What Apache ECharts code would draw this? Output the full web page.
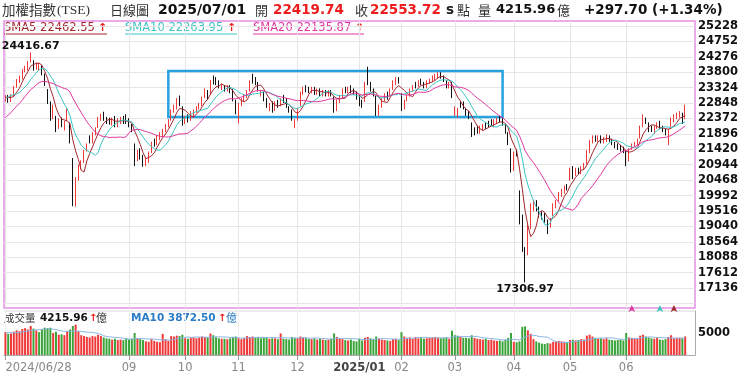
<!DOCTYPE html>
<html><head><meta charset="utf-8">
<script src="https://cdn.jsdelivr.net/npm/echarts@6/dist/echarts.min.js"></script>
<style>html,body{margin:0;padding:0;background:#fff}#c{width:740px;height:378px}</style>
</head><body><div id="c"></div><script>
const dates = [
'2024/06/28',
'2024/07/01','2024/07/02','2024/07/03','2024/07/04','2024/07/05','2024/07/08','2024/07/09','2024/07/10','2024/07/11','2024/07/12','2024/07/15','2024/07/16','2024/07/17','2024/07/18','2024/07/19','2024/07/22','2024/07/23','2024/07/26','2024/07/29','2024/07/30','2024/07/31',
'2024/08/01','2024/08/02','2024/08/05','2024/08/06','2024/08/07','2024/08/08','2024/08/09','2024/08/12','2024/08/13','2024/08/14','2024/08/15','2024/08/16','2024/08/19','2024/08/20','2024/08/21','2024/08/22','2024/08/23','2024/08/26','2024/08/27','2024/08/28','2024/08/29','2024/08/30',
'2024/09/02','2024/09/03','2024/09/04','2024/09/05','2024/09/06','2024/09/09','2024/09/10','2024/09/11','2024/09/12','2024/09/13','2024/09/16','2024/09/18','2024/09/19','2024/09/20','2024/09/23','2024/09/24','2024/09/25','2024/09/26','2024/09/27','2024/09/30',
'2024/10/01','2024/10/04','2024/10/07','2024/10/08','2024/10/09','2024/10/11','2024/10/14','2024/10/15','2024/10/16','2024/10/17','2024/10/18','2024/10/21','2024/10/22','2024/10/23','2024/10/24','2024/10/25','2024/10/28','2024/10/29','2024/10/30',
'2024/11/01','2024/11/04','2024/11/05','2024/11/06','2024/11/07','2024/11/08','2024/11/11','2024/11/12','2024/11/13','2024/11/14','2024/11/15','2024/11/18','2024/11/19','2024/11/20','2024/11/21','2024/11/22','2024/11/25','2024/11/26','2024/11/27','2024/11/28','2024/11/29',
'2024/12/02','2024/12/03','2024/12/04','2024/12/05','2024/12/06','2024/12/09','2024/12/10','2024/12/11','2024/12/12','2024/12/13','2024/12/16','2024/12/17','2024/12/18','2024/12/19','2024/12/20','2024/12/23','2024/12/24','2024/12/25','2024/12/26','2024/12/27','2024/12/30','2024/12/31',
'2025/01/02','2025/01/03','2025/01/06','2025/01/07','2025/01/08','2025/01/09','2025/01/10','2025/01/13','2025/01/14','2025/01/15','2025/01/16','2025/01/17','2025/01/20','2025/01/21','2025/01/22',
'2025/02/03','2025/02/04','2025/02/05','2025/02/06','2025/02/07','2025/02/10','2025/02/11','2025/02/12','2025/02/13','2025/02/14','2025/02/17','2025/02/18','2025/02/19','2025/02/20','2025/02/21','2025/02/24','2025/02/25','2025/02/26','2025/02/27',
'2025/03/03','2025/03/04','2025/03/05','2025/03/06','2025/03/07','2025/03/10','2025/03/11','2025/03/12','2025/03/13','2025/03/14','2025/03/17','2025/03/18','2025/03/19','2025/03/20','2025/03/21','2025/03/24','2025/03/25','2025/03/26','2025/03/27','2025/03/28','2025/03/31',
'2025/04/01','2025/04/02','2025/04/07','2025/04/08','2025/04/09','2025/04/10','2025/04/11','2025/04/14','2025/04/15','2025/04/16','2025/04/17','2025/04/18','2025/04/21','2025/04/22','2025/04/23','2025/04/24','2025/04/25','2025/04/28','2025/04/29','2025/04/30',
'2025/05/02','2025/05/05','2025/05/06','2025/05/07','2025/05/08','2025/05/09','2025/05/12','2025/05/13','2025/05/14','2025/05/15','2025/05/16','2025/05/19','2025/05/20','2025/05/21','2025/05/22','2025/05/23','2025/05/26','2025/05/27','2025/05/28','2025/05/29',
'2025/06/02','2025/06/03','2025/06/04','2025/06/05','2025/06/06','2025/06/09','2025/06/10','2025/06/11','2025/06/12','2025/06/13','2025/06/16','2025/06/17','2025/06/18','2025/06/19','2025/06/20','2025/06/23','2025/06/24','2025/06/25','2025/06/26','2025/06/27','2025/06/30',
'2025/07/01'];

const opens = [22960,23060,22920,23080,23360,23520,23620,23840,23900,24150,
24100,23950,23900,23950,23700,23250,22850,22450,22400,22150,
22300,22050,22300,22200,21100,19800,20550,20850,21050,21400,
21800,21650,21900,22100,22350,22480,22380,22350,22200,22380,
22200,22250,22350,22450,22300,22150,21550,21200,21400,21200,
20950,21050,21350,21700,21600,21800,21850,22000,22150,22350,
22600,22700,23000,22700,22250,22450,22350,22450,22600,22700,
22800,23050,23200,23150,23650,23550,23500,23300,23350,23250,
23350,23250,22900,22400,22800,22950,23050,23250,23650,23600,
23450,23150,23150,22950,22700,22850,22650,22900,22800,23000,
22950,22700,22600,22150,22350,22800,23150,23350,23300,23200,
23300,23150,23250,23100,23200,23100,23200,23000,22650,22900,
23050,23300,23200,23350,23250,23150,23050,22900,22900,23750,
23450,23250,23050,22500,22750,22950,23150,23100,23300,23450,
23600,23100,22700,22950,23100,23250,23450,23400,23550,23450,
23350,23500,23550,23600,23650,23750,23650,23500,23350,23450,
22500,22450,22900,22850,22650,22550,22200,22050,22100,21950,
22050,22200,22250,22300,22150,22250,22400,22350,22150,21900,
21400,20800,21350,20100,19000,18250,18250,19050,19600,19800,
19550,19450,19400,19200,19050,19400,19650,19850,20050,20100,
20300,20500,20850,20700,20800,20700,20850,21000,21350,21650,
21800,21700,21800,21650,21700,21800,21700,21600,21550,21500,
21450,21350,21100,21450,21550,21600,21800,22150,22350,22200,
22100,21950,22100,22250,22100,22000,21750,22150,22300,22400,
22450,22500,22419.74];

const closes = [23032,22900,23080,23350,23550,23650,23850,23960,24080,24390,
23920,24010,24000,23770,23420,22880,22400,22750,22120,22300,
22200,22250,22640,21638,19831,20500,20900,21000,21350,21550,
21650,21900,22050,22380,22450,22350,22300,22250,22350,22220,
22300,22350,22300,22270,22200,22050,21092,21350,21150,20950,
21100,21300,21600,21600,21800,21900,22000,22150,22300,22600,
22750,22950,22800,22224,22400,22300,22550,22600,22700,22800,
23000,23250,23050,23500,23487,23450,23350,23400,23250,23350,
23200,22950,22700,22800,22950,23050,23200,23500,23550,23480,
23250,23200,22950,22750,22800,22600,22850,22750,22950,22900,
22750,22600,22350,22300,22650,23150,23300,23250,23200,23300,
23150,23250,23100,23200,23100,23200,23150,22600,22900,23050,
23250,23200,23300,23250,23150,23035,22770,22750,23450,23500,
23250,23100,22500,22750,22950,23100,23050,23250,23525,23600,
23500,22694,22900,23050,23250,23350,23400,23500,23450,23350,
23500,23550,23650,23700,23750,23700,23550,23350,23450,23050,
22700,22600,22750,22700,22550,22400,21850,21950,21950,22100,
22150,22100,22150,22200,22300,22350,22300,22200,21950,21600,
20779,21298,21286,19232,18460,17392,18997,19528,19750,19600,
19400,19350,19250,19000,19200,19650,19800,20050,20100,20250,
20235,20800,20700,20800,20700,20850,20950,21350,21650,21750,
21700,21800,21650,21750,21850,21700,21600,21550,21450,21400,
21350,21050,21400,21550,21600,21700,22100,22450,22250,22050,
22000,22100,22200,22100,22000,21900,22000,22350,22450,22500,
22550,22256.02,22553.72];

const lows = [22900,22860,22880,23050,23320,23470,23580,23800,23850,24100,
23850,23880,23850,23700,23380,22820,22300,22350,21950,22050,
22100,22000,22280,21600,19662,19650,20450,20800,21000,21350,
21600,21600,21850,22080,22300,22300,22200,22180,22150,22100,
22100,22200,22200,22200,22100,21950,20900,21050,21100,20880,
20900,21000,21300,21500,21550,21700,21800,21950,22100,22300,
22550,22650,22750,22150,22200,22250,22300,22400,22550,22650,
22750,23000,22950,23100,23420,23400,23300,23250,23200,23200,
23150,22900,22500,22220,22750,22900,23000,23200,23450,23400,
23200,23050,22900,22700,22600,22550,22600,22700,22750,22850,
22700,22550,22300,22070,22300,22750,23100,23180,23150,23150,
23100,23100,23050,23050,23050,23050,23050,22550,22600,22850,
23000,23150,23150,23150,23100,22950,22750,22700,22880,23400,
23200,23050,22450,22450,22700,22900,22950,23050,23250,23400,
23450,22600,22650,22900,23050,23200,23300,23350,23400,23300,
23300,23450,23500,23550,23600,23600,23500,23300,23300,23000,
22450,22400,22700,22650,22450,22350,21800,21850,21900,21900,
22000,22050,22100,22150,22100,22200,22250,22150,21900,21550,
20700,20750,21200,19100,18250,17306.97,18150,18950,19500,19500,
19300,19250,19150,18800,19000,19350,19600,19800,19950,20050,
20150,20450,20500,20600,20650,20650,20800,20950,21300,21600,
21650,21650,21600,21600,21650,21650,21550,21450,21400,21350,
21300,20900,21050,21400,21500,21550,21750,22100,22200,21950,
21950,21900,22050,22050,21950,21850,21550,22100,22250,22350,
22400,22200,22350];

const highs = [23090,23100,23120,23380,23590,23700,23900,24000,24140,24416.67,
24170,24100,24090,24010,23760,23280,22900,22800,22450,22380,
22400,22300,22680,22250,21150,20560,20950,21080,21400,21600,
21850,21950,22100,22420,22520,22580,22420,22400,22400,22450,
22380,22420,22450,22500,22380,22200,21600,21400,21450,21250,
21180,21350,21650,21750,21850,21950,22050,22200,22350,22650,
22800,23000,23080,22750,22450,22500,22600,22650,22750,22850,
23050,23300,23250,23560,23700,23650,23550,23450,23400,23400,
23400,23280,22950,22850,23000,23100,23250,23550,23750,23650,
23500,23250,23200,23000,22850,22900,22900,22950,23000,23100,
23000,22750,22650,22350,22700,23200,23350,23400,23350,23350,
23350,23300,23300,23250,23250,23250,23250,23050,22950,23100,
23300,23350,23350,23400,23300,23200,23100,22950,23500,23970,
23500,23300,23080,22800,23000,23150,23200,23300,23550,23650,
23650,23150,22950,23100,23300,23400,23500,23550,23600,23500,
23550,23600,23700,23750,23800,23800,23700,23550,23500,23500,
22750,22700,22900,22900,22700,22600,22250,22100,22150,22150,
22200,22250,22300,22350,22350,22400,22450,22400,22200,21950,
21450,21350,21400,20150,19400,18400,19100,19750,19850,19850,
19650,19500,19450,19250,19300,19750,19850,20100,20200,20300,
20350,20850,20900,20850,20850,20900,21000,21400,21700,21850,
21850,21850,21850,21800,21880,21850,21750,21650,21600,21550,
21500,21400,21450,21600,21650,21750,22150,22500,22400,22250,
22150,22150,22250,22300,22150,22050,22050,22400,22500,22550,
22600,22550,22800];

const volumes = [5200,4800,4900,5300,5600,5400,5900,6100,5800,6600,6000,5600,5200,5900,6200,6100,6200,5000,5300,4600,4700,4500,
5400,5800,6600,6900,5400,4500,4300,4100,4000,4300,4200,4600,4300,4000,3800,3700,3500,3700,3400,3500,3400,3800,
3500,3700,5000,3800,3600,3400,3100,3000,3600,3200,3000,2900,4800,3600,3200,4300,4200,4400,4300,4600,
3800,3700,3900,4000,3800,4000,4200,4100,4000,4900,4500,4000,3800,3700,3700,3600,3800,4100,4200,
3800,3600,3900,4300,4100,4200,3900,4100,3800,4000,3900,3700,3800,3800,3600,4900,3700,3600,3500,4100,3900,
3800,4200,4000,3800,3700,3600,3800,3500,3700,3500,3400,3500,3700,4900,4100,3700,3600,3400,3300,3500,3200,3100,
3700,3300,3900,4100,3800,3600,4200,3700,3500,3400,3300,3200,3600,3700,3400,
5200,4200,3900,4000,3700,4100,3800,3900,3700,3800,3900,4000,4100,3900,3800,3900,4000,3700,5500,
4500,4400,4100,3900,3900,3800,4500,3900,3700,3600,3500,3700,3400,3500,3300,3200,3300,3100,3500,3900,5000,
3000,2900,3100,6400,6500,5600,4800,3600,3100,2800,2600,2500,2700,2600,3000,3000,3200,3100,3000,2900,
3400,3500,3300,3400,3600,3500,4400,4600,4200,3900,3700,3800,3600,3800,3500,3400,3300,3400,3500,3300,
5000,4000,3900,3800,3700,4400,4600,4200,4000,3800,3700,3900,3500,3400,3600,4100,4500,3800,3900,3900,3800,4215.96];

// closes / volumes before the first shown day (2024/05/31 - 2024/06/27), used only for the moving averages
const priorCloses = [21174,21536,21356,21600,21900,21858,21700,22000,22300,22504,22400,22700,23000,23400,23253,22974,23050,23200,22900];
const priorVolumes = [4600,4800,5200,5500,5000,4700,4900,5100,5300];

const priceTicks = [16660,17136,17612,18088,18564,19040,19516,19992,20468,20944,21420,21896,22372,22848,23324,23800,24276,24752,25228];
const priceLabels = priceTicks.slice(1);
const volumeLabels = [5000];
const tickDates = ['2024/06/28','2024/09/02','2024/10/01','2024/11/01','2024/12/02','2025/01/02','2025/02/03','2025/03/03','2025/04/01','2025/05/02','2025/06/02'];
const tickLabels = ['2024/06/28','09','10','11','12','2025/01','02','03','04','05','06'];

const trendLine = [[4, 24147], [245, 23251]];
const boxCorners = [[58, 23838], [177, 22418]];
const signalMarks = [['SMA20', 223], ['SMA10', 233], ['SMA5', 238]];

const RED = '#f03a3a', BLACK = '#111', GREEN = '#3aa43a';
const C5 = '#a3262c', C10 = '#3cc4c4', C20 = '#e0389f';

function sma(src, prior, n) {
  const all = prior.concat(src), off = prior.length;
  return src.map((_, i) => {
    const end = i + off;
    if (end - n + 1 < 0) return '-';
    let s = 0;
    for (let k = end - n + 1; k <= end; k++) s += all[k];
    return +(s / n).toFixed(2);
  });
}
const tickIdx = tickDates.map(d => dates.indexOf(d));
const tickSet = new Set(tickIdx);
const isTick = (i) => tickSet.has(i);
const hiIdx = highs.indexOf(Math.max(...highs));
const loIdx = lows.indexOf(Math.min(...lows));

const candleData = dates.map((d, i) => [opens[i], closes[i], lows[i], highs[i]]);
const volData = volumes.map((v, i) => {
  const prev = i === 0 ? priorCloses[priorCloses.length - 1] : closes[i - 1];
  return { value: v, itemStyle: { color: closes[i] >= prev ? RED : GREEN } };
});
const ma5 = sma(closes, priorCloses, 5), ma10 = sma(closes, priorCloses, 10), ma20 = sma(closes, priorCloses, 20);
const vma10 = sma(volumes, priorVolumes, 10);
const sigColor = { SMA5: C5, SMA10: C10, SMA20: C20 };
const sigMark = (name) => ({
  silent: true, symbol: 'arrow', symbolSize: [5, 7], label: { show: false },
  itemStyle: { color: sigColor[name] },
  data: signalMarks.filter(s => s[0] === name).map(s => ({ coord: [s[1], 16611] }))
});

const CJK = '"Noto Sans CJK TC"', LAT = '"DejaVu Sans"';
function T(x, y, text, font, fill) {
  return { type: 'text', silent: true, style: { x, y, text, font, fill, verticalAlign: 'middle', textVerticalAlign: 'middle' } };
}
function L(x1, x2, y, color) {
  return { type: 'line', silent: true, shape: { x1, y1: y, x2, y2: y }, style: { stroke: color, lineWidth: 1 } };
}
const graphics = [
  T(2, 10, '加權指數', '13.5px ' + CJK, '#333'),
  T(57, 10, '(TSE)', '13.5px "Liberation Serif"', '#333'),
  T(110, 10, '日線圖', '13px ' + CJK, '#333'),
  T(158, 10, '2025/07/01', 'bold 14px ' + LAT, '#111'),
  T(255, 10, '開', '13px ' + CJK, '#333'),
  T(273, 10, '22419.74', 'bold 13.5px ' + LAT, '#ee1c1c'),
  T(355, 10, '收', '13px ' + CJK, '#333'),
  T(370, 10, '22553.72', 'bold 13.5px ' + LAT, '#ee1c1c'),
  T(446, 10, 's', 'bold 13.5px ' + LAT, '#222'),
  T(457, 10, '點', '13px ' + CJK, '#333'),
  T(478, 10, '量', '13px ' + CJK, '#333'),
  T(496, 10, '4215.96', 'bold 13px ' + LAT, '#111'),
  T(557, 10, '億', '13px ' + CJK, '#333'),
  T(584, 10, '+297.70 (+1.34%)', 'bold 13.5px ' + LAT, '#111'),
  T(4, 28, 'SMA5 22462.55', '11.5px ' + LAT, C5),
  T(98, 28, '↑', 'bold 11px ' + LAT, '#e81c1c'),
  L(4, 107, 34, C5),
  T(125, 28, 'SMA10 22263.95', '11.5px ' + LAT, C10),
  T(227, 28, '↑', 'bold 11px ' + LAT, '#e81c1c'),
  L(125, 237, 34, C10),
  T(253, 28, 'SMA20 22135.87', '11.5px ' + LAT, C20),
  T(355, 28, '↑', 'bold 11px ' + LAT, '#e81c1c'),
  L(253, 364, 34, C20),
  T(4, 318, '成交量', '10.5px ' + CJK, '#333'),
  T(40, 318, '4215.96', 'bold 10.5px ' + LAT, '#111'),
  T(89, 318, '↑', 'bold 10px ' + LAT, '#e81c1c'),
  T(96, 318, '億', '11px ' + CJK, '#333'),
  T(131, 318, 'MA10 3872.50', 'bold 10.5px ' + LAT, '#2a7cc8'),
  T(218, 318, '↑', 'bold 10px ' + LAT, '#e81c1c'),
  T(226, 318, '億', '11px ' + CJK, '#2a7cc8'),
  L(4, 695, 311, '#d8d8d8')
];

const plain = (v) => String(Math.round(v));
const chart = echarts.init(document.getElementById('c'), null, { renderer: 'canvas' });
chart.setOption({
  animation: false,
  backgroundColor: '#fff',
  graphic: graphics,
  grid: [
    { left: 4, top: 21, width: 691, height: 287, show: true, borderColor: '#e590e5', borderWidth: 1.5, outerBoundsMode: 'none' },
    { left: 4, top: 311, width: 691, height: 44, outerBoundsMode: 'none' }
  ],
  xAxis: [
    { type: 'category', gridIndex: 0, data: dates, max: 245, boundaryGap: true,
      axisLine: { show: false }, axisTick: { show: false }, axisLabel: { show: false },
      splitLine: { show: true, interval: isTick, alignWithLabel: true, lineStyle: { color: '#e6e6e6', width: 1 } } },
    { type: 'category', gridIndex: 1, data: dates, max: 245, boundaryGap: true,
      axisLine: { show: true, lineStyle: { color: '#aaa' } },
      axisTick: { show: true, interval: isTick, alignWithLabel: true, length: 5, lineStyle: { color: '#999' } },
      axisLabel: { show: true, interval: isTick, margin: 7, color: '#888', fontSize: 11.5, fontFamily: 'DejaVu Sans',
        alignMinLabel: 'left',
        formatter: (v, i) => { const k = tickIdx.indexOf(i); if (k < 0) return ''; const t = tickLabels[k]; return t === '2025/01' ? '{b|' + t + '}' : t; },
        rich: { b: { fontWeight: 'bold', color: '#444', fontSize: 11.5, fontFamily: 'DejaVu Sans' } } },
      splitLine: { show: true, interval: isTick, alignWithLabel: true, lineStyle: { color: '#eeeeee' } } }
  ],
  yAxis: [
    { type: 'value', gridIndex: 0, position: 'right', min: 16518, max: 25382, scale: true,
      axisLine: { show: false }, axisTick: { show: false, customValues: priceTicks },
      axisLabel: { show: true, customValues: priceLabels, formatter: plain, margin: 3, fontSize: 11.5, fontWeight: 'bold', color: '#111', fontFamily: 'DejaVu Sans' },
      splitLine: { show: true, lineStyle: { color: '#e6e6e6' } } },
    { type: 'value', gridIndex: 1, position: 'right', min: 0, max: 10000,
      axisLine: { show: true, lineStyle: { color: '#aaa' } }, axisTick: { show: false, customValues: volumeLabels },
      axisLabel: { show: true, customValues: volumeLabels, formatter: plain, margin: 3, fontSize: 11.5, fontWeight: 'bold', color: '#111', fontFamily: 'DejaVu Sans' },
      splitLine: { show: false } }
  ],
  series: [
    { name: 'TSE', type: 'candlestick', xAxisIndex: 0, yAxisIndex: 0, data: candleData, barWidth: 1.3,
      itemStyle: { color: RED, color0: BLACK, borderColor: RED, borderColor0: BLACK, borderWidth: 1 },
      markLine: { silent: true, symbol: ['none', 'none'], label: { show: false },
        lineStyle: { color: '#e5232b', width: 2, type: 'solid' },
        data: [[{ coord: trendLine[0] }, { coord: trendLine[1] }]] },
      markArea: { silent: true, itemStyle: { color: 'rgba(0,0,0,0)', borderColor: '#28a2df', borderWidth: 2.5 },
        data: [[{ coord: boxCorners[0] }, { coord: boxCorners[1] }]] },
      markPoint: { silent: true, symbol: 'circle', symbolSize: 0.1, itemStyle: { color: 'rgba(0,0,0,0)' },
        label: { show: true, fontSize: 11, fontWeight: 'bold', color: '#111', fontFamily: 'DejaVu Sans', distance: 1 },
        data: [
          { coord: [hiIdx, highs[hiIdx]], label: { position: 'top', formatter: highs[hiIdx].toFixed(2) } },
          { coord: [loIdx, lows[loIdx]], label: { position: 'bottom', formatter: lows[loIdx].toFixed(2) } }
        ] } },
    { name: 'SMA5', type: 'line', xAxisIndex: 0, yAxisIndex: 0, data: ma5, showSymbol: false, lineStyle: { color: C5, width: 1 }, itemStyle: { color: C5 }, markPoint: sigMark('SMA5') },
    { name: 'SMA10', type: 'line', xAxisIndex: 0, yAxisIndex: 0, data: ma10, showSymbol: false, lineStyle: { color: C10, width: 1 }, itemStyle: { color: C10 }, markPoint: sigMark('SMA10') },
    { name: 'SMA20', type: 'line', xAxisIndex: 0, yAxisIndex: 0, data: ma20, showSymbol: false, lineStyle: { color: C20, width: 1 }, itemStyle: { color: C20 }, markPoint: sigMark('SMA20') },
    { name: 'VOL', type: 'bar', xAxisIndex: 1, yAxisIndex: 1, data: volData, barWidth: 2 },
    { name: 'VMA10', type: 'line', xAxisIndex: 1, yAxisIndex: 1, data: vma10, showSymbol: false, lineStyle: { color: '#88b6e4', width: 1 } }
  ]
});
</script></body></html>
